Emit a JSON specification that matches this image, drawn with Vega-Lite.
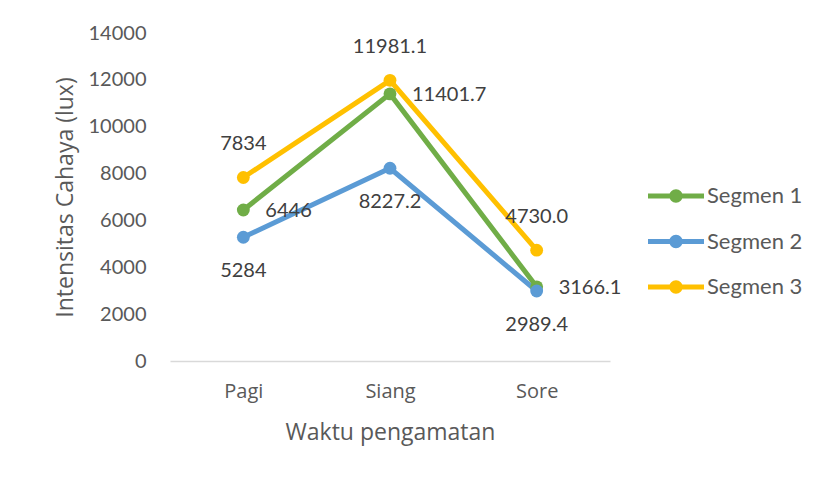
{
  "$schema": "https://vega.github.io/schema/vega-lite/v6.json",
  "width": 440,
  "height": 328,
  "autosize": {"type": "none"},
  "padding": {"left": 170, "top": 33, "right": 210, "bottom": 116},
  "background": "white",
  "config": {
    "view": {"stroke": null},
    "font": "Lato",
    "axis": {"labelColor": "#595959", "titleColor": "#595959", "labelFontWeight": "normal", "titleFontWeight": "normal"}
  },
  "data": {
    "values": [
      {"waktu": "Pagi", "segmen": "Segmen 1", "lux": 6446, "label": "6446"},
      {"waktu": "Siang", "segmen": "Segmen 1", "lux": 11401.7, "label": "11401.7"},
      {"waktu": "Sore", "segmen": "Segmen 1", "lux": 3166.1, "label": "3166.1"},
      {"waktu": "Pagi", "segmen": "Segmen 2", "lux": 5284, "label": "5284"},
      {"waktu": "Siang", "segmen": "Segmen 2", "lux": 8227.2, "label": "8227.2"},
      {"waktu": "Sore", "segmen": "Segmen 2", "lux": 2989.4, "label": "2989.4"},
      {"waktu": "Pagi", "segmen": "Segmen 3", "lux": 7834, "label": "7834"},
      {"waktu": "Siang", "segmen": "Segmen 3", "lux": 11981.1, "label": "11981.1"},
      {"waktu": "Sore", "segmen": "Segmen 3", "lux": 4730.0, "label": "4730.0"}
    ]
  },
  "encoding": {
    "x": {
      "field": "waktu", "type": "nominal", "sort": ["Pagi", "Siang", "Sore"],
      "scale": {"type": "point", "padding": 0.5},
      "axis": {
        "title": "Waktu pengamatan", "labelAngle": 0, "ticks": false, "grid": false,
        "domainColor": "#D9D9D9", "domainWidth": 1.5,
        "labelFont": "Open Sans", "labelFontSize": 20, "labelPadding": 20,
        "titleFont": "Open Sans", "titleFontSize": 23, "titlePadding": 20
      }
    },
    "y": {
      "field": "lux", "type": "quantitative",
      "scale": {"domain": [0, 14000], "nice": false, "zero": true},
      "axis": {
        "title": "Intensitas Cahaya (lux)", "values": [0, 2000, 4000, 6000, 8000, 10000, 12000, 14000],
        "format": "d",
        "grid": false, "domain": false, "ticks": false,
        "labelFont": "Lato", "labelFontSize": 20, "labelPadding": 24,
        "titleFont": "Open Sans", "titleFontSize": 23, "titleX": -105, "titleBaseline": "middle"
      }
    },
    "color": {
      "field": "segmen", "type": "nominal",
      "scale": {"domain": ["Segmen 1", "Segmen 2", "Segmen 3"], "range": ["#70AD47", "#5B9BD5", "#FFC000"]},
      "legend": {
        "title": null, "orient": "none", "legendX": 492, "legendY": 149,
        "symbolType": "M-2,-0.18 L2,-0.18 L2,0.18 L-2,0.18 Z M-0.48,0 A0.48,0.48 0 1 1 0.48,0 A0.48,0.48 0 1 1 -0.48,0 Z",
        "symbolSize": 784, "symbolStrokeWidth": 0, "symbolOpacity": 1,
        "labelFont": "Lato", "labelFontSize": 22, "labelColor": "#595959", "labelOffset": 17,
        "rowPadding": 20.5, "padding": 0
      }
    }
  },
  "layer": [
    {"mark": {"type": "line", "strokeWidth": 5, "strokeCap": "round"}},
    {"mark": {"type": "point", "filled": true, "size": 165, "opacity": 1}},
    {
      "transform": [{"filter": "datum.segmen === 'Segmen 3'"}],
      "mark": {"type": "text", "dy": -33, "font": "Lato", "fontSize": 20, "baseline": "middle"},
      "encoding": {"text": {"field": "label"}, "color": {"value": "#404040"}}
    },
    {
      "transform": [{"filter": "datum.segmen === 'Segmen 1'"}],
      "mark": {"type": "text", "dx": 22, "dy": 1, "align": "left", "font": "Lato", "fontSize": 20, "baseline": "middle"},
      "encoding": {"text": {"field": "label"}, "color": {"value": "#404040"}}
    },
    {
      "transform": [{"filter": "datum.segmen === 'Segmen 2'"}],
      "mark": {"type": "text", "dy": 34, "font": "Lato", "fontSize": 20, "baseline": "middle"},
      "encoding": {"text": {"field": "label"}, "color": {"value": "#404040"}}
    }
  ]
}
